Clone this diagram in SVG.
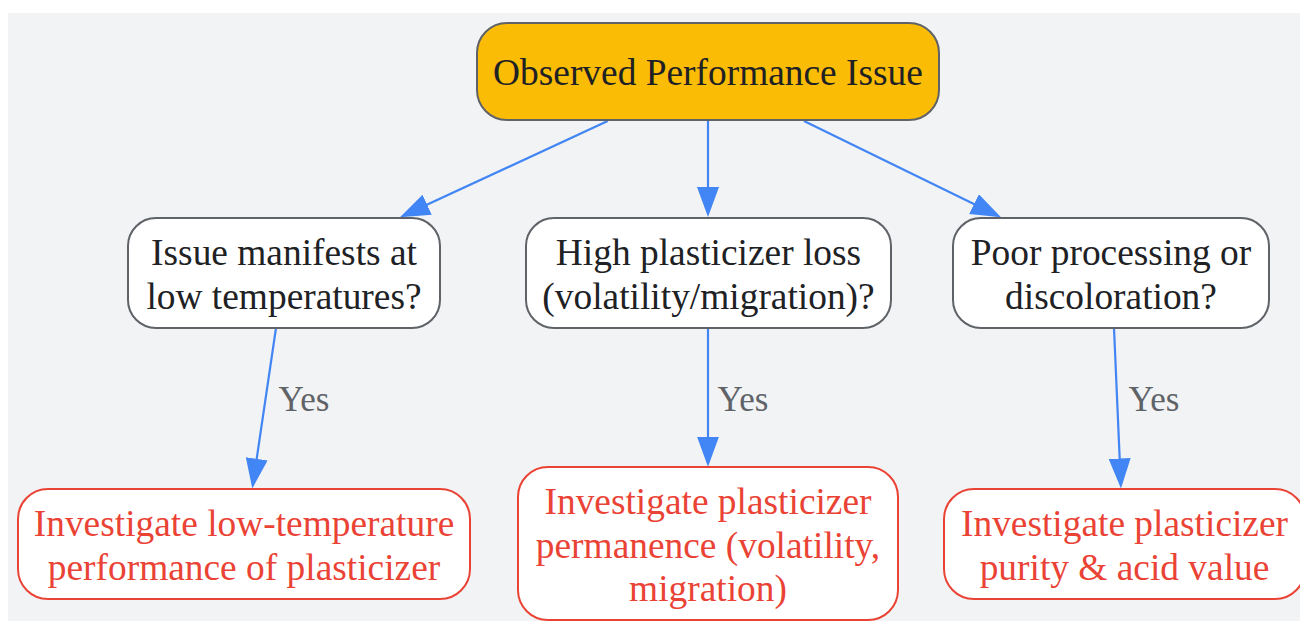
<svg xmlns="http://www.w3.org/2000/svg" width="1300" height="621" viewBox="0 0 1300 621">
<style>
.q rect{fill:#ffffff;stroke:#5f6368;stroke-width:2}
.r rect{fill:#ffffff;stroke:#ea4335;stroke-width:2}
text{font-family:"Liberation Serif","Times New Roman",serif;font-size:37.4px;text-anchor:middle}
.q text,#start text{fill:#202124}
.r text{fill:#ea4335}
.edge{fill:none;stroke:#4285f4;stroke-width:2.2}
.lbl{fill:#5f6368;font-size:35px}
</style>
<defs>
<marker id="arr" viewBox="0 0 30 22" markerWidth="30" markerHeight="22" refX="26" refY="11" orient="auto" markerUnits="userSpaceOnUse">
<path d="M0,0 L30,11 L0,22 z" fill="#4285f4"/>
</marker>
</defs>
<rect x="8" y="13" width="1300" height="620" fill="#f1f3f4"/>
<g id="connectors">
<path class="edge" d="M607.7,121 L403.6,215.6" marker-end="url(#arr)"/>
<path class="edge" d="M708,121 L708,213" marker-end="url(#arr)"/>
<path class="edge" d="M804,121 L997.4,215.5" marker-end="url(#arr)"/>
<path class="edge" d="M276,328 L252.9,484.5" marker-end="url(#arr)"/>
<path class="edge" d="M708,328 L708,462.7" marker-end="url(#arr)"/>
<path class="edge" d="M1114,328 L1120.8,484.5" marker-end="url(#arr)"/>
<text class="lbl" x="304" y="411">Yes</text>
<text class="lbl" x="743" y="411">Yes</text>
<text class="lbl" x="1154" y="411">Yes</text>
</g>
<g id="start">
<rect x="477" y="23" width="462" height="97" rx="30" fill="#fbbc05" stroke="#5f6368" stroke-width="2"/>
<text x="708" y="85">Observed Performance Issue</text>
</g>
<g id="q1" class="q">
<rect x="128" y="218" width="312" height="110" rx="28"/>
<text x="284" y="265">Issue manifests at</text>
<text x="284" y="308.5">low temperatures?</text>
</g>
<g id="q2" class="q">
<rect x="526" y="218" width="365" height="110" rx="28"/>
<text x="708.5" y="265">High plasticizer loss</text>
<text x="708.5" y="308.5">(volatility/migration)?</text>
</g>
<g id="q3" class="q">
<rect x="953" y="218" width="316" height="110" rx="28"/>
<text x="1111" y="265">Poor processing or</text>
<text x="1111" y="308.5">discoloration?</text>
</g>
<g id="a1" class="r">
<rect x="18" y="489" width="452" height="110" rx="30"/>
<text x="244" y="536">Investigate low-temperature</text>
<text x="244" y="580">performance of plasticizer</text>
</g>
<g id="a2" class="r">
<rect x="518" y="467" width="380" height="153" rx="30"/>
<text x="708" y="514">Investigate plasticizer</text>
<text x="708" y="557.5">permanence (volatility,</text>
<text x="708" y="601">migration)</text>
</g>
<g id="a3" class="r">
<rect x="944" y="489" width="361" height="110" rx="30"/>
<text x="1124.5" y="536">Investigate plasticizer</text>
<text x="1124.5" y="580">purity &amp; acid value</text>
</g>
</svg>
